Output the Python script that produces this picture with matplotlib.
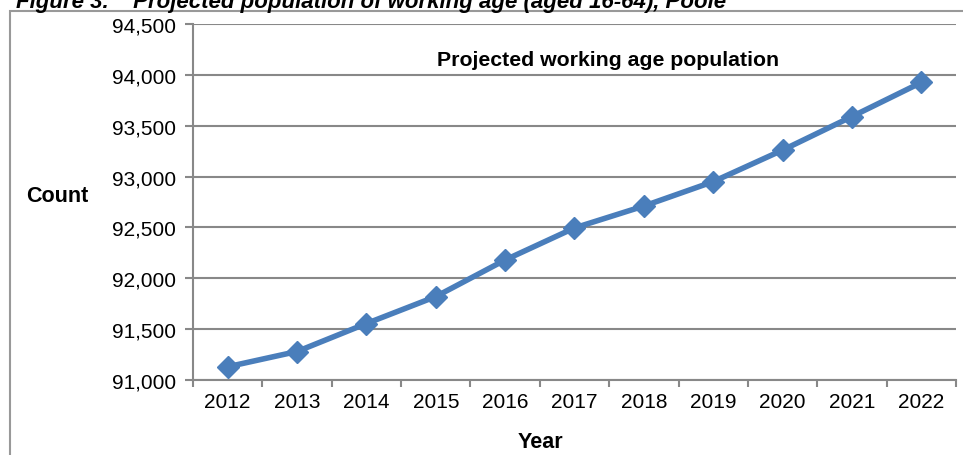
import numpy as np
import matplotlib
matplotlib.use("Agg")
import matplotlib.pyplot as plt
from matplotlib.patches import Rectangle
from matplotlib.ticker import FuncFormatter

plt.rcParams['font.family'] = ['Liberation Sans', 'DejaVu Sans']

# 数据
years = ['2012', '2013', '2014', '2015', '2016', '2017',
         '2018', '2019', '2020', '2021', '2022']
population = [91130, 91280, 91555, 91820, 92180, 92495,
              92710, 92950, 93260, 93590, 93925]

grid_col = '#888888'
line_col = '#4A7EBB'

fig = plt.figure(figsize=(9.63, 4.56), dpi=100)
ax = fig.add_axes([0.2004, 0.1645, 0.7923, 0.7807])

x = np.arange(len(years))
ax.plot(x, population, color=line_col, lw=4, marker='D', ms=11,
        mec=line_col, mfc=line_col, zorder=3)

ax.set_xlim(-0.5, len(years) - 0.5)
ax.set_ylim(91000, 94500)
ax.set_yticks(np.arange(91000, 94501, 500))
ax.yaxis.set_major_formatter(FuncFormatter(lambda v, p: f'{int(v):,}'))
ax.yaxis.grid(True, color=grid_col, lw=1.5)
ax.set_axisbelow(True)

# 类别标签在中间，刻度线在边界
ax.set_xticks(x)
ax.set_xticklabels(years)
ax.set_xticks(np.arange(-0.5, len(years)), minor=True)
ax.tick_params(axis='x', which='major', length=0, pad=9, labelsize=15)
ax.tick_params(axis='x', which='minor', length=5, width=1.5, color=grid_col)
ax.tick_params(axis='y', length=6, width=1.5, color=grid_col, pad=6, labelsize=15)

for s in ['top', 'right']:
    ax.spines[s].set_visible(False)
for s in ['left', 'bottom']:
    ax.spines[s].set_color(grid_col)
    ax.spines[s].set_linewidth(1.5)

ax.text(0.544, 0.9, 'Projected working age population', transform=ax.transAxes,
        ha='center', va='center', fontsize=15.3, fontweight='bold')

fig.text(26 / 963, 1 - 197 / 456, 'Count', ha='left', va='center',
         fontsize=15.5, fontweight='bold')
fig.text(540 / 963, 1 - 443 / 456, 'Year', ha='center', va='center',
         fontsize=15.5, fontweight='bold')

# 顶部被截掉的图注
fig.text(16 / 963, 1 - 8 / 456, 'Figure 3.    Projected population of working age (aged 16-64), Poole',
         ha='left', va='baseline', fontsize=16, fontweight='bold', style='italic')

# 外框
fig.patches.append(Rectangle((10 / 963, -0.1), 1.0, 1 - 12 / 456 + 0.1,
                             transform=fig.transFigure, fill=False,
                             edgecolor='#999999', lw=1.5))

fig.savefig('out.png', dpi=100)
